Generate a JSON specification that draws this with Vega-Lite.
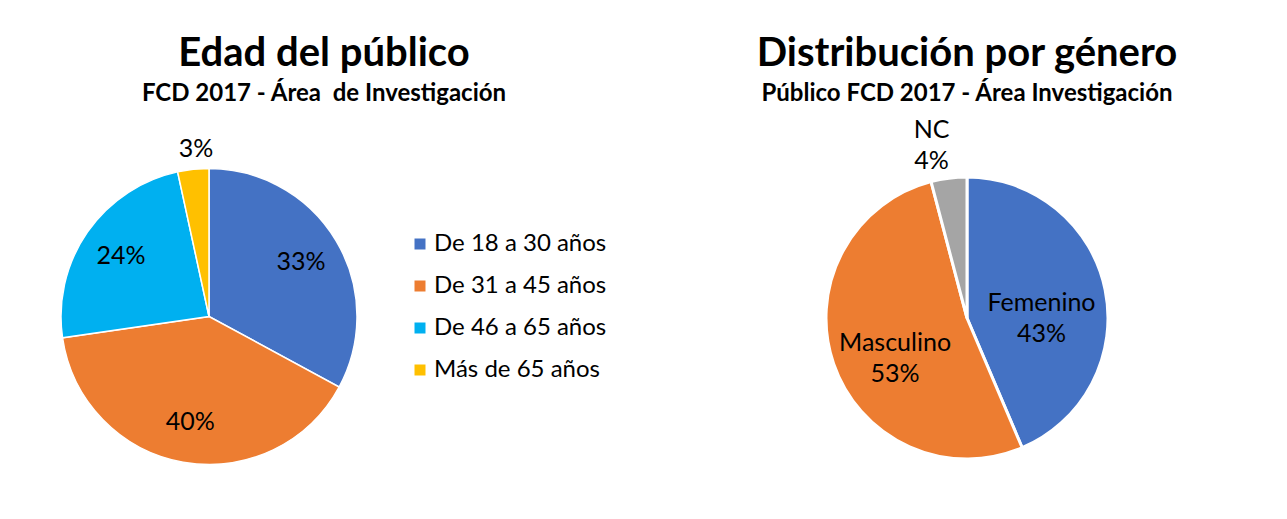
{
  "$schema": "https://vega.github.io/schema/vega-lite/v6.json",
  "background": "white",
  "padding": {"left": 58, "top": 34, "right": 0, "bottom": 0},
  "bounds": "flush",
  "spacing": 469,
  "resolve": {"scale": {"color": "independent", "theta": "independent"}, "legend": {"color": "independent"}},
  "config": {
    "view": {"stroke": null},
    "font": "Lato",
    "title": {"font": "Lato", "fontSize": 40, "fontWeight": "bold", "color": "black", "subtitleFont": "Lato", "subtitleFontSize": 24, "subtitleFontWeight": "bold", "subtitleColor": "black", "subtitlePadding": 8, "anchor": "middle", "frame": "group", "offset": 10}
  },
  "hconcat": [
    {
      "width": 296,
      "height": 401,
      "title": {"text": "Edad del público", "subtitle": "FCD 2017 - Área\u00a0 de Investigación", "dx": 115},
      "data": {"values": [
        {"grupo": "De 18 a 30 años", "valor": 32.9, "etiqueta": "33%"},
        {"grupo": "De 31 a 45 años", "valor": 39.8, "etiqueta": "40%"},
        {"grupo": "De 46 a 65 años", "valor": 23.9, "etiqueta": "24%"},
        {"grupo": "Más de 65 años", "valor": 3.4, "etiqueta": "3%"}
      ]},
      "layer": [
        {
          "mark": {"type": "arc", "stroke": "white", "strokeWidth": 1.5, "outerRadius": 148},
          "encoding": {
            "theta": {"field": "valor", "type": "quantitative", "stack": true},
            "order": {"field": "grupo", "type": "nominal", "sort": "ascending"},
            "color": {
              "field": "grupo", "type": "nominal",
              "scale": {"domain": ["De 18 a 30 años", "De 31 a 45 años", "De 46 a 65 años", "Más de 65 años"], "range": ["#4472C4", "#ED7D31", "#00B0F0", "#FFC000"]},
              "legend": {"title": null, "orient": "none", "legendX": 347, "legendY": 116, "symbolType": "square", "symbolSize": 121, "symbolStrokeWidth": 0, "labelFont": "Lato", "labelFontSize": 24, "labelColor": "black", "labelOffset": 2, "rowPadding": 18, "labelLimit": 400}
            }
          }
        },
        {
          "mark": {"type": "text", "fontSize": 25, "color": "black", "font": "Lato", "radius": 107},
          "encoding": {
            "theta": {"field": "valor", "type": "quantitative", "stack": true},
            "order": {"field": "grupo", "type": "nominal", "sort": "ascending"},
            "text": {"condition": {"test": "datum.valor >= 5", "field": "etiqueta", "type": "nominal"}, "value": ""}
          }
        },
        {
          "mark": {"type": "text", "fontSize": 25, "color": "black", "font": "Lato", "radius": 168, "dx": 5},
          "encoding": {
            "theta": {"field": "valor", "type": "quantitative", "stack": true},
            "order": {"field": "grupo", "type": "nominal", "sort": "ascending"},
            "text": {"condition": {"test": "datum.valor < 5", "field": "etiqueta", "type": "nominal"}, "value": ""}
          }
        }
      ]
    },
    {
      "width": 282,
      "height": 404,
      "title": {"text": "Distribución por género", "subtitle": "Público FCD 2017 - Área Investigación"},
      "data": {"values": [
        {"genero": "Femenino", "valor": 43.6, "etiqueta": "Femenino\n43%"},
        {"genero": "Masculino", "valor": 52.3, "etiqueta": "Masculino\n53%"},
        {"genero": "NC", "valor": 4.1, "etiqueta": "NC\n4%"}
      ]},
      "layer": [
        {
          "mark": {"type": "arc", "stroke": "white", "strokeWidth": 3, "outerRadius": 141},
          "encoding": {
            "theta": {"field": "valor", "type": "quantitative", "stack": true},
            "order": {"field": "genero", "type": "nominal", "sort": "ascending"},
            "color": {
              "field": "genero", "type": "nominal",
              "scale": {"domain": ["Femenino", "Masculino", "NC"], "range": ["#4472C4", "#ED7D31", "#A5A5A5"]},
              "legend": null
            }
          }
        },
        {
          "mark": {"type": "text", "fontSize": 25, "color": "black", "font": "Lato", "lineBreak": "\n", "lineHeight": 31, "radius": 76},
          "encoding": {
            "theta": {"field": "valor", "type": "quantitative", "stack": true},
            "order": {"field": "genero", "type": "nominal", "sort": "ascending"},
            "text": {"condition": {"test": "datum.valor >= 5", "field": "etiqueta", "type": "nominal"}, "value": ""}
          }
        },
        {
          "mark": {"type": "text", "fontSize": 25, "color": "black", "font": "Lato", "lineBreak": "\n", "lineHeight": 31, "radius": 190, "dx": -11},
          "encoding": {
            "theta": {"field": "valor", "type": "quantitative", "stack": true},
            "order": {"field": "genero", "type": "nominal", "sort": "ascending"},
            "text": {"condition": {"test": "datum.valor < 5", "field": "etiqueta", "type": "nominal"}, "value": ""}
          }
        }
      ]
    }
  ]
}
